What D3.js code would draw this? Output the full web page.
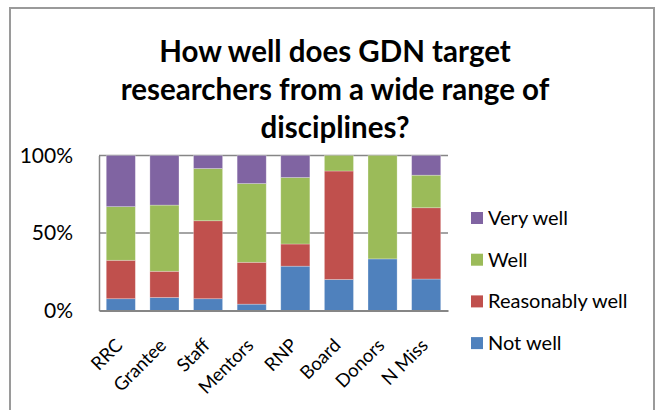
<!DOCTYPE html>
<html><head><meta charset="utf-8">
<script src="https://cdn.jsdelivr.net/npm/d3@7"></script>
<style>body{margin:0;background:#fff}svg{display:block}</style>
</head><body>
<svg id="c" width="663" height="410"></svg>
<script>
const categories = ["RRC","Grantee","Staff","Mentors","RNP","Board","Donors","N Miss"];
const seriesNames = ["Not well","Reasonably well","Well","Very well"];
const notWell       = [7.6, 8.4, 7.6, 4.1, 28.6, 20, 33.3, 20.3];
const reasonably    = [24.8, 16.9, 50.3, 27.0, 14.3, 70, 0, 46.0];
const wellVals      = [34.6, 42.7, 33.7, 50.8, 42.9, 10, 66.7, 21.0];
const veryWell      = [33.0, 32.0, 8.4, 18.1, 14.2, 0, 0, 12.7];
const yTicks = [0, 50, 100];
const colors = ["#4F81BD","#C0504D","#9BBB59","#8064A2"];
const titleLines = ["How well does GDN target","researchers from a wide range of","disciplines?"];

const svg = d3.select("#c");
const font = "Lato, 'Open Sans', sans-serif";

// outer frame
svg.append("rect").attr("x",10).attr("y",8).attr("width",644).attr("height",420)
  .attr("fill","none").attr("stroke","#9a9a9a").attr("stroke-width",2);

const m = {left:99, right:448, top:155.5, bottom:310.5};
const x = d3.scaleBand().domain(categories).range([m.left, m.right]).paddingInner(1/3).paddingOuter(1/6);
const y = d3.scaleLinear().domain([0,100]).range([m.bottom, m.top]);

// title
svg.append("text").attr("text-anchor","middle").attr("font-family",font).attr("font-weight","bold")
  .attr("font-size",29.5).attr("fill","#000")
  .selectAll("tspan").data(titleLines).join("tspan")
  .attr("x",335).attr("y",(d,i)=>62+i*38).text(d=>d);

// gridlines
svg.append("g").selectAll("line").data(yTicks.filter(t=>t>0)).join("line")
  .attr("x1",m.left).attr("x2",m.right).attr("y1",d=>y(d)).attr("y2",d=>y(d))
  .attr("stroke","#868686").attr("stroke-width",1.5);

// stacked data
const rows = categories.map((c,i)=>({cat:c,"Not well":notWell[i],"Reasonably well":reasonably[i],"Well":wellVals[i],"Very well":veryWell[i]}));
const stack = d3.stack().keys(seriesNames)(rows);
svg.append("g").selectAll("g").data(stack).join("g").attr("fill",(d,i)=>colors[i])
  .selectAll("rect").data(d=>d).join("rect")
  .attr("x",d=>x(d.data.cat)).attr("width",x.bandwidth())
  .attr("y",d=>y(d[1])).attr("height",d=>Math.max(0,y(d[0])-y(d[1])))
  .attr("stroke","#ffffff").attr("stroke-opacity",0.35).attr("stroke-width",0.75);

// y axis
const yAxis = d3.axisLeft(y).tickValues(yTicks).tickFormat(d=>d+"%").tickSize(0).tickPadding(26);
const ya = svg.append("g").attr("transform",`translate(${m.left},0)`).call(yAxis);
ya.select(".domain").attr("stroke","#868686").attr("stroke-width",1.5);
ya.selectAll("text").attr("font-family",font).attr("font-size",21).attr("fill","#000");

// x axis
const xAxis = d3.axisBottom(x).tickSize(0).tickPadding(0);
const xa = svg.append("g").attr("transform",`translate(0,${m.bottom})`).call(xAxis);
xa.select(".domain").attr("stroke","#868686").attr("stroke-width",2);
xa.selectAll("text").attr("font-family",font).attr("font-size",18.5).attr("fill","#000")
  .attr("text-anchor","end").attr("y",0).attr("dy","0")
  .attr("transform","translate(3,36) rotate(-45)");

// legend
const legendOrder = [3,2,1,0];
const lg = svg.append("g").selectAll("g").data(legendOrder).join("g")
  .attr("transform",(d,i)=>`translate(471,${218+i*41.7})`);
lg.append("rect").attr("x",0).attr("y",-6).attr("width",12).attr("height",12).attr("fill",d=>colors[d]);
lg.append("text").attr("x",17).attr("y",0).attr("dy","0.35em").attr("font-family",font)
  .attr("font-size",20).attr("fill","#000").text(d=>seriesNames[d]);
</script>
</body></html>
